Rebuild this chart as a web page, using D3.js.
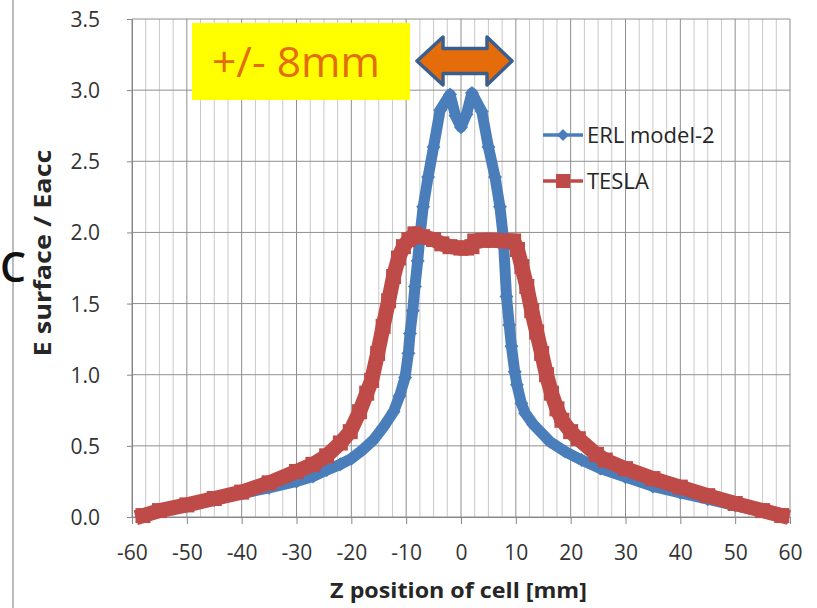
<!DOCTYPE html>
<html>
<head>
<meta charset="utf-8">
<script src="https://cdn.jsdelivr.net/npm/d3@7"></script>
<style>
  body { margin: 0; background: #fff; }
  svg { display: block; }
  text { font-family: "Open Sans", Lato, sans-serif; }
</style>
</head>
<body>
<svg id="chart" width="817" height="608"></svg>
<script>
// Surface field ratio along the cell axis
const erlZ = [-58, -55, -50, -45, -40, -35, -30, -27, -24.5, -22, -20, -18, -16, -14.2, -12.3, -11.2, -10.2, -9.6, -9.3, -8.8, -8.4, -7.9, -7.5, -6.9, -6.0, -5.0, -3.8, -2.0, -1.0, 0, 1.0, 2.0, 3.8, 5.0, 6.2, 7.1, 7.7, 8.3, 8.8, 9.2, 9.8, 10.2, 11.0, 11.7, 13.2, 14.7, 16.2, 19.0, 22, 25.4, 30, 35, 40, 45, 50, 55, 58];
const erlE = [0.01, 0.04, 0.08, 0.12, 0.165, 0.205, 0.25, 0.285, 0.33, 0.37, 0.41, 0.47, 0.54, 0.63, 0.74, 0.85, 0.98, 1.15, 1.29, 1.45, 1.62, 1.80, 1.97, 2.18, 2.39, 2.60, 2.86, 2.97, 2.82, 2.74, 2.83, 2.98, 2.85, 2.60, 2.39, 2.18, 1.97, 1.55, 1.35, 1.20, 1.02, 0.93, 0.80, 0.73, 0.65, 0.59, 0.53, 0.46, 0.40, 0.34, 0.28, 0.215, 0.17, 0.125, 0.08, 0.04, 0.01];

const teslaZ = [-58, -55, -50, -45, -40, -35, -30, -27, -24.5, -22, -20.2, -18.5, -17.2, -16.3, -15.2, -14.2, -13.2, -12.3, -11.4, -10.5, -9.5, -8.4, -7, -5, -3.5, -2, 0, 1, 2, 2.5, 4, 6, 8, 9.6, 10.3, 11.1, 12.0, 12.9, 13.8, 14.7, 15.6, 16.5, 17.5, 18.4, 20, 21.4, 24.7, 26.3, 30, 35, 40, 45, 50, 55, 58.5];
const teslaE = [0.01, 0.045, 0.085, 0.13, 0.175, 0.24, 0.32, 0.37, 0.43, 0.52, 0.60, 0.74, 0.87, 0.96, 1.15, 1.34, 1.52, 1.69, 1.82, 1.90, 1.95, 1.99, 1.97, 1.95, 1.92, 1.90, 1.89, 1.89, 1.90, 1.94, 1.945, 1.945, 1.94, 1.94, 1.88, 1.76, 1.62, 1.45, 1.30, 1.15, 1.00, 0.87, 0.76, 0.68, 0.60, 0.55, 0.44, 0.40, 0.34, 0.27, 0.21, 0.15, 0.095, 0.045, 0.01];

const seriesNames = ["ERL model-2", "TESLA"];
const xTicks = [-60, -50, -40, -30, -20, -10, 0, 10, 20, 30, 40, 50, 60];
const yTicks = [0, 0.5, 1.0, 1.5, 2.0, 2.5, 3.0, 3.5];
const xMinorStep = 2.5;
const xTitle = "Z position of cell [mm]";
const yTitle = "E surface / Eacc";
const noteText = "+/- 8mm";
const sideLetter = "C";

const blue = "#4a7ebb", red = "#be4b48";
const svg = d3.select("#chart");

const plot = { left: 132, right: 790, top: 19, bottom: 517 };
const x = d3.scaleLinear().domain([-60, 60]).range([plot.left, plot.right]);
const y = d3.scaleLinear().domain([0, 3.5]).range([plot.bottom, plot.top]);

// factor that brings a text element to a given length along its baseline
function fitWidth(sel, w) {
  const len = sel.node().getComputedTextLength();
  return w / len;
}

// outer frame line on the left
svg.append("line").attr("x1", 13).attr("x2", 13).attr("y1", 0).attr("y2", 608)
  .attr("stroke", "#a6a6a6").attr("stroke-width", 1.5);

// gridlines
const grid = svg.append("g");
const minor = d3.range(-60, 60.001, xMinorStep).filter(v => !xTicks.includes(v));
grid.selectAll(".minor").data(minor).join("line")
  .attr("x1", d => x(d)).attr("x2", d => x(d))
  .attr("y1", plot.top).attr("y2", plot.bottom)
  .attr("stroke", "#c8c8c8").attr("stroke-width", 1);
grid.selectAll(".majx").data(xTicks).join("line")
  .attr("x1", d => x(d)).attr("x2", d => x(d))
  .attr("y1", plot.top).attr("y2", plot.bottom)
  .attr("stroke", "#8e8e8e").attr("stroke-width", 1);
grid.selectAll(".majy").data(yTicks).join("line")
  .attr("x1", plot.left).attr("x2", plot.right)
  .attr("y1", d => y(d)).attr("y2", d => y(d))
  .attr("stroke", "#8e8e8e").attr("stroke-width", 1);

// axes
const xAxis = svg.append("g").attr("transform", `translate(0,${plot.bottom})`)
  .call(d3.axisBottom(x).tickValues(xTicks).tickSize(7).tickSizeOuter(0).tickFormat(d => String(d)));
const yAxis = svg.append("g").attr("transform", `translate(${plot.left},0)`)
  .call(d3.axisLeft(y).tickValues(yTicks).tickSize(5).tickSizeOuter(0).tickFormat(d3.format(".1f")));
[xAxis, yAxis].forEach(a => {
  a.select(".domain").attr("stroke", "#868686");
  a.selectAll(".tick line").attr("stroke", "#868686");
  a.selectAll(".tick text").attr("font-family", "'Open Sans', sans-serif")
    .attr("font-size", 21).attr("fill", "#333");
});
xAxis.selectAll(".tick text").attr("y", 43).attr("dy", 0);
yAxis.selectAll(".tick text").attr("x", -32).attr("dy", "0.36em");

// series
const erl = erlZ.map((z, i) => [z, erlE[i]]);
const tesla = teslaZ.map((z, i) => [z, teslaE[i]]);
const line = d3.line().x(d => x(d[0])).y(d => y(d[1]));

svg.append("path").datum(erl).attr("d", line)
  .attr("fill", "none").attr("stroke", blue).attr("stroke-width", 11)
  .attr("stroke-linejoin", "round").attr("stroke-linecap", "round");
svg.append("g").selectAll("path").data(erl).join("path")
  .attr("d", "M0,-7L7,0L0,7L-7,0Z")
  .attr("transform", d => `translate(${x(d[0])},${y(d[1])})`)
  .attr("fill", blue);

svg.append("path").datum(tesla).attr("d", line)
  .attr("fill", "none").attr("stroke", red).attr("stroke-width", 15)
  .attr("stroke-linejoin", "round").attr("stroke-linecap", "square");
svg.append("g").selectAll("rect").data(tesla).join("rect")
  .attr("x", d => x(d[0]) - 7.5).attr("y", d => y(d[1]) - 7.5)
  .attr("width", 15).attr("height", 15)
  .attr("fill", red);

// legend
const legend = svg.append("g");
const legendRows = [
  { name: seriesNames[0], color: blue, cy: 135, marker: "diamond" },
  { name: seriesNames[1], color: red, cy: 181, marker: "square" }
];
legendRows.forEach(r => {
  legend.append("line").attr("x1", 543).attr("x2", 583).attr("y1", r.cy).attr("y2", r.cy)
    .attr("stroke", r.color).attr("stroke-width", 3.5);
  if (r.marker === "diamond") {
    legend.append("path").attr("d", "M0,-6L6,0L0,6L-6,0Z")
      .attr("transform", `translate(563,${r.cy})`).attr("fill", r.color);
  } else {
    legend.append("rect").attr("x", 556).attr("y", r.cy - 7).attr("width", 14).attr("height", 14)
      .attr("fill", r.color);
  }
  legend.append("text").attr("x", 587).attr("y", r.cy + 8)
    .attr("font-size", 22).attr("fill", "#262626").text(r.name);
});

// axis titles
const xt = svg.append("text").attr("text-anchor", "middle")
  .attr("font-size", 21).attr("font-weight", "bold").attr("fill", "#262626").text(xTitle);
xt.attr("transform", `translate(458.5,598) scale(${fitWidth(xt, 257)},1)`);

const yt = svg.append("text").attr("text-anchor", "middle")
  .attr("font-size", 23).attr("font-weight", "bold").attr("fill", "#262626").text(yTitle);
yt.attr("transform", `translate(51,253) rotate(-90) scale(${fitWidth(yt, 207)},1)`);

// side letter
svg.append("text").attr("x", 0).attr("y", 282).attr("font-size", 41)
  .attr("font-weight", 600).attr("fill", "#111").text(sideLetter);

// annotation box
svg.append("rect").attr("x", 192).attr("y", 23).attr("width", 218).attr("height", 77)
  .attr("fill", "#ffff00");
const nt = svg.append("text").attr("font-size", 42).attr("fill", "#e46c0a").text(noteText);
nt.attr("transform", `translate(212,77) scale(${fitWidth(nt, 168)},1)`);

// double-headed arrow spanning the field peak region
const ac = 61;
const arrowPts = [
  [417, ac], [443, ac - 24], [443, ac - 12.5], [487, ac - 12.5], [487, ac - 24],
  [512, ac], [487, ac + 24], [487, ac + 12.5], [443, ac + 12.5], [443, ac + 24]
];
svg.append("path").attr("d", "M" + arrowPts.map(p => p.join(",")).join("L") + "Z")
  .attr("fill", "#e46c0a").attr("stroke", "#3b5e8c").attr("stroke-width", 3.5)
  .attr("stroke-linejoin", "round");
</script>
</body>
</html>
